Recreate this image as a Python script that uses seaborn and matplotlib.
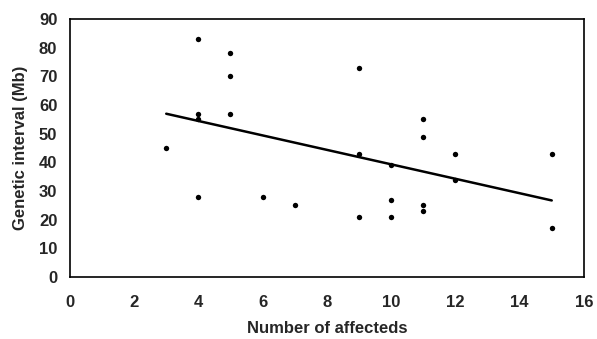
import matplotlib
matplotlib.use("Agg")
import matplotlib.pyplot as plt
import seaborn as sns
import pandas as pd

# Number of affecteds vs genetic interval
affecteds = [3, 4, 4, 4, 4, 5, 5, 5, 6, 7, 9, 9, 9, 10, 10, 10,
             11, 11, 11, 11, 12, 12, 15, 15]
interval_mb = [45, 83, 57, 55, 28, 78, 70, 57, 28, 25, 73, 43, 21, 39, 27, 21,
               55, 49, 25, 23, 43, 34, 43, 17]

x_ticks = [0, 2, 4, 6, 8, 10, 12, 14, 16]
y_ticks = [0, 10, 20, 30, 40, 50, 60, 70, 80, 90]

df = pd.DataFrame({"affecteds": affecteds, "interval": interval_mb})

sns.set_style("white")
plt.rcParams["font.family"] = ["Liberation Sans", "DejaVu Sans"]

fig = plt.figure(figsize=(5.97, 3.39), dpi=100)
ax = fig.add_axes([0.117, 0.183, 0.861, 0.761])

sns.regplot(
    data=df,
    x="affecteds",
    y="interval",
    ci=None,
    color="black",
    scatter_kws={"s": 15, "linewidths": 0, "alpha": 1},
    line_kws={"linewidth": 1.8},
    ax=ax,
)

ax.set_xlim(0, 16)
ax.set_ylim(0, 90)
ax.set_xticks(x_ticks)
ax.set_yticks(y_ticks)
ax.tick_params(length=0, labelsize=12)
ax.tick_params(axis="x", pad=13)
ax.tick_params(axis="y", pad=9)
for lbl in ax.get_xticklabels() + ax.get_yticklabels():
    lbl.set_fontweight("bold")

ax.set_xlabel("Number of affecteds", fontsize=12, fontweight="bold", labelpad=8)
ax.set_ylabel("Genetic interval (Mb)", fontsize=12, fontweight="bold", labelpad=8)

for side in ax.spines.values():
    side.set_color("black")
    side.set_linewidth(1.2)

fig.savefig("out.png", dpi=100)
